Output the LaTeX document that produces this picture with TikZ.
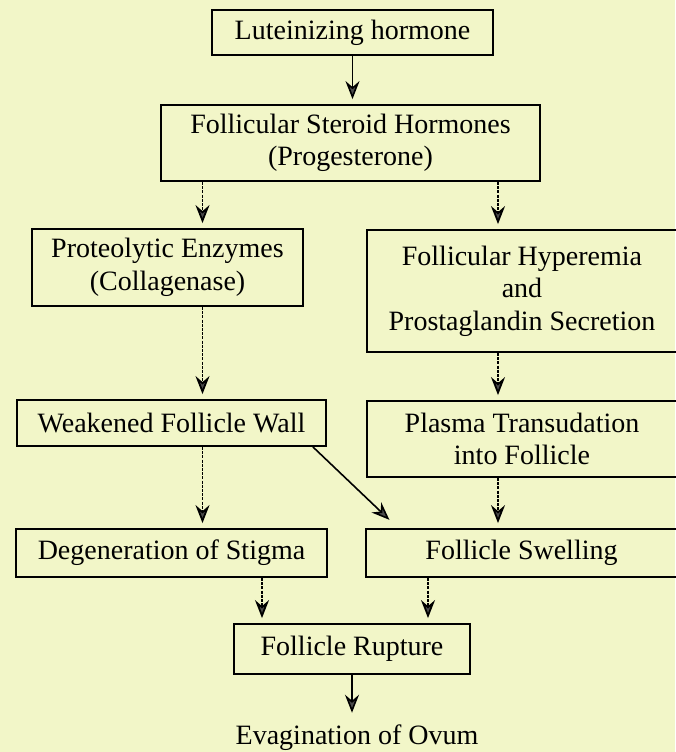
\documentclass[tikz,border=0pt]{standalone}
\usepackage{fontspec}
\setmainfont{Liberation Serif}
\usepackage{tikz}
\usetikzlibrary{arrows.meta}
\usetikzlibrary{calc}
\usepackage{xcolor}
\definecolor{scanpaper}{RGB}{242,246,200}

\begin{document}
\begin{tikzpicture}[x=1pt, y=-1pt]
        % ================= 样式定义 =================
        \tikzset{
            % 方框
            box/.style={draw=black, line width=1.8pt, inner sep=0pt, align=center, font=\fontsize{28}{32.5}\selectfont},
            % 实线箭头
            flow/.style={line width=1.6pt, black, shorten >=5pt, -{Stealth[length=18pt, width=14pt, inset=6pt, fill=black!70]}},
            % 虚线箭头
            dflow/.style={flow, line width=1.8pt, dash pattern=on 3pt off 1.2pt}
        }

        % 背景 (纸张颜色)
        \fill[scanpaper] (0,0) rectangle (675,752);
        \useasboundingbox (0,0) rectangle (675,752);

        % 箭头所在的列
        \coordinate (colL) at (202.5,0);
        \coordinate (colR) at (498,0);
        \coordinate (colA) at (262,0);
        \coordinate (colB) at (428,0);

        % ================= 第一部分:激素 (上) =================
        \node[box, minimum width=281pt, minimum height=45pt] (lh) at (352.5, 32.5) {Luteinizing hormone};
        \node[box, minimum width=379pt, minimum height=76pt] (fsh) at (350.5, 143) {Follicular Steroid Hormones\\(Progesterone)};

        \draw[flow] (lh.south) -- (lh.south |- fsh.north);

        % ================= 第二部分:两条分支 (中) =================
        % 左列
        \node[box, minimum width=271pt, minimum height=77pt] (pe) at (167.5, 267.5) {Proteolytic Enzymes\\(Collagenase)};
        \node[box, minimum width=309pt, minimum height=46pt] (wfw) at (171.5, 423) {Weakened Follicle Wall};
        \node[box, minimum width=311pt, minimum height=48pt] (ds) at (171.5, 553) {Degeneration of Stigma};

        % 右列 (右边框在图外)
        \node[box, minimum width=310pt, minimum height=122pt] (fh) at (522, 291) {Follicular Hyperemia\\and\\Prostaglandin Secretion};
        \node[box, minimum width=310pt, minimum height=76pt] (pt) at (522, 439) {Plasma Transudation\\into Follicle};
        \node[box, minimum width=311pt, minimum height=48pt] (fs) at (521.5, 553) {Follicle Swelling};

        % 虚线箭头
        \draw[dflow] (fsh.south -| colL) -- (pe.north -| colL);
        \draw[dflow] (fsh.south -| colR) -- (fh.north -| colR);
        \draw[dflow] (pe.south -| colL) -- (wfw.north -| colL);
        \draw[dflow] (fh.south -| colR) -- (pt.north -| colR);
        \draw[dflow] (wfw.south -| colL) -- (ds.north -| colL);
        \draw[dflow] (pt.south -| colR) -- (fs.north -| colR);

        % 斜向实线箭头
        \draw[flow, shorten >=12pt] ([xshift=-14pt]wfw.south east) -- ([xshift=33pt]fs.north west);

        % ================= 第三部分:破裂 (下) =================
        \node[box, minimum width=236pt, minimum height=50pt] (fr) at (352, 649) {Follicle Rupture};
        \node[font=\fontsize{28}{32.5}\selectfont, anchor=base] (ev) at (357, 744) {Evagination of Ovum};

        \draw[dflow] (ds.south -| colA) -- (fr.north -| colA);
        \draw[dflow] (fs.south -| colB) -- (fr.north -| colB);
        \draw[flow, shorten >=8pt] (fr.south) -- (fr.south |- ev.north);

    \end{tikzpicture}
\end{document}
